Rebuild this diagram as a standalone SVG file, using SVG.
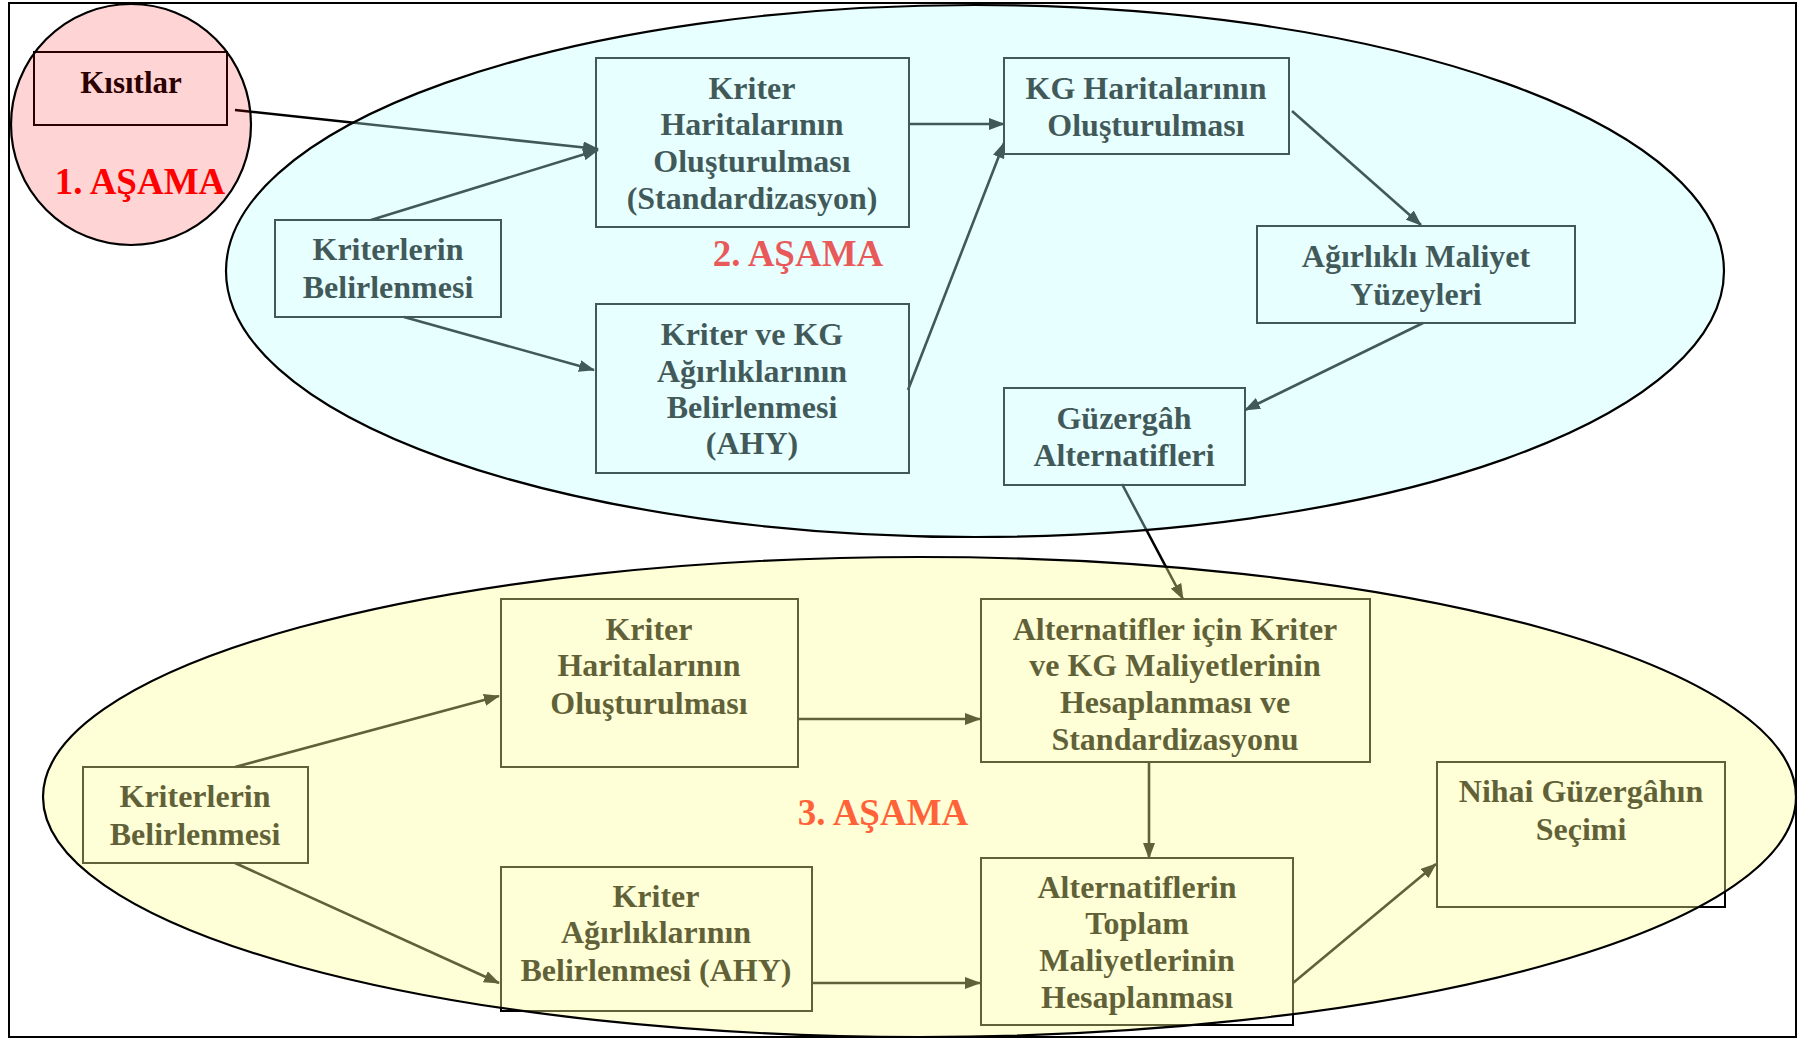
<svg xmlns="http://www.w3.org/2000/svg" width="1798" height="1039" viewBox="0 0 1798 1039">
<defs>
<marker id="ah" markerWidth="16" markerHeight="12" refX="15" refY="6" orient="auto" markerUnits="userSpaceOnUse">
<path d="M0,0 L16,6 L0,12 Z" fill="#000"/>
</marker>
<style>
.box{fill:none;stroke:#000;stroke-width:2}
.t{font-family:"Liberation Serif","Times New Roman",serif;font-weight:bold;font-size:32px;fill:#000;text-anchor:middle}
.stage{font-family:"Liberation Serif","Times New Roman",serif;font-weight:bold;font-size:37px;fill:#ff0000;text-anchor:middle}
.c{stroke:#000;stroke-width:2.6;fill:none;marker-end:url(#ah)}
.ov{stroke:#000;stroke-width:2.2}
</style>
</defs>
<rect x="0" y="0" width="1798" height="1039" fill="#fff"/>
<rect x="9" y="3" width="1787" height="1034" fill="none" stroke="#000" stroke-width="2"/>

<g id="connectors">
<line class="c" x1="235" y1="110" x2="598" y2="149"/>
<line class="c" x1="371" y1="220" x2="598" y2="150"/>
<line class="c" x1="404" y1="317" x2="594" y2="370"/>
<line class="c" x1="909" y1="124" x2="1004" y2="124"/>
<line class="c" x1="908" y1="390" x2="1004" y2="143"/>
<line class="c" x1="1292" y1="111" x2="1421" y2="225"/>
<line class="c" x1="1423" y1="323" x2="1245" y2="410"/>
<line class="c" x1="1122" y1="484" x2="1183" y2="599"/>
<line class="c" x1="235" y1="767" x2="499" y2="696"/>
<line class="c" x1="235" y1="863" x2="499" y2="983"/>
<line class="c" x1="798" y1="719" x2="980" y2="719"/>
<line class="c" x1="812" y1="983" x2="980" y2="983"/>
<line class="c" x1="1149" y1="762" x2="1149" y2="858"/>
<line class="c" x1="1293" y1="983" x2="1436" y2="864"/>
</g>

<g id="kisitlar">
<rect class="box" x="34" y="52" width="193" height="73"/>
<text class="t" x="131" y="93" style="font-size:31px">Kısıtlar</text>
</g>
<text id="stage1" class="stage" x="140" y="194">1. AŞAMA</text>

<g id="kriterlerin2">
<rect class="box" x="275" y="220" width="226" height="97"/>
<text class="t" x="388" y="260">Kriterlerin</text>
<text class="t" x="388" y="298">Belirlenmesi</text>
</g>
<g id="kriterhar2">
<rect class="box" x="596" y="58" width="313" height="169"/>
<text class="t" x="752" y="99">Kriter</text>
<text class="t" x="752" y="135">Haritalarının</text>
<text class="t" x="752" y="172">Oluşturulması</text>
<text class="t" x="752" y="209">(Standardizasyon)</text>
</g>
<g id="kriterkg2">
<rect class="box" x="596" y="304" width="313" height="169"/>
<text class="t" x="752" y="345">Kriter ve KG</text>
<text class="t" x="752" y="382">Ağırlıklarının</text>
<text class="t" x="752" y="418">Belirlenmesi</text>
<text class="t" x="752" y="454">(AHY)</text>
</g>
<g id="kghar2">
<rect class="box" x="1004" y="58" width="285" height="96"/>
<text class="t" x="1146" y="99">KG Haritalarının</text>
<text class="t" x="1146" y="136">Oluşturulması</text>
</g>
<g id="agirlikli2">
<rect class="box" x="1257" y="226" width="318" height="97"/>
<text class="t" x="1416" y="267">Ağırlıklı Maliyet</text>
<text class="t" x="1416" y="305">Yüzeyleri</text>
</g>
<g id="guzergah2">
<rect class="box" x="1004" y="388" width="241" height="97"/>
<text class="t" x="1124" y="429">Güzergâh</text>
<text class="t" x="1124" y="466">Alternatifleri</text>
</g>
<text id="stage2" class="stage" x="798" y="266">2. AŞAMA</text>

<g id="kriterlerin3">
<rect class="box" x="83" y="767" width="225" height="96"/>
<text class="t" x="195" y="807">Kriterlerin</text>
<text class="t" x="195" y="845">Belirlenmesi</text>
</g>
<g id="kriterhar3">
<rect class="box" x="501" y="599" width="297" height="168"/>
<text class="t" x="649" y="640">Kriter</text>
<text class="t" x="649" y="676">Haritalarının</text>
<text class="t" x="649" y="714">Oluşturulması</text>
</g>
<g id="kriteragir3">
<rect class="box" x="501" y="867" width="311" height="144"/>
<text class="t" x="656" y="907">Kriter</text>
<text class="t" x="656" y="943">Ağırlıklarının</text>
<text class="t" x="656" y="981">Belirlenmesi (AHY)</text>
</g>
<g id="altkriter3">
<rect class="box" x="981" y="599" width="389" height="163"/>
<text class="t" x="1175" y="640">Alternatifler için Kriter</text>
<text class="t" x="1175" y="676">ve KG Maliyetlerinin</text>
<text class="t" x="1175" y="713">Hesaplanması ve</text>
<text class="t" x="1175" y="750">Standardizasyonu</text>
</g>
<g id="toplam3">
<rect class="box" x="981" y="858" width="312" height="167"/>
<text class="t" x="1137" y="898">Alternatiflerin</text>
<text class="t" x="1137" y="934">Toplam</text>
<text class="t" x="1137" y="971">Maliyetlerinin</text>
<text class="t" x="1137" y="1008">Hesaplanması</text>
</g>
<g id="nihai3">
<rect class="box" x="1437" y="762" width="288" height="145"/>
<text class="t" x="1581" y="802">Nihai Güzergâhın</text>
<text class="t" x="1581" y="840">Seçimi</text>
</g>
<text id="stage3" class="stage" x="883" y="825">3. AŞAMA</text>

<g id="stage-areas">
<ellipse class="ov" cx="131" cy="124.5" rx="120" ry="120.5" fill="#ff0000" fill-opacity="0.17"/>
<ellipse class="ov" cx="975" cy="271" rx="749" ry="266" fill="#bdffff" fill-opacity="0.35"/>
<ellipse class="ov" cx="919.5" cy="797" rx="876.5" ry="240" fill="#ffff96" fill-opacity="0.38"/>
</g>
</svg>
